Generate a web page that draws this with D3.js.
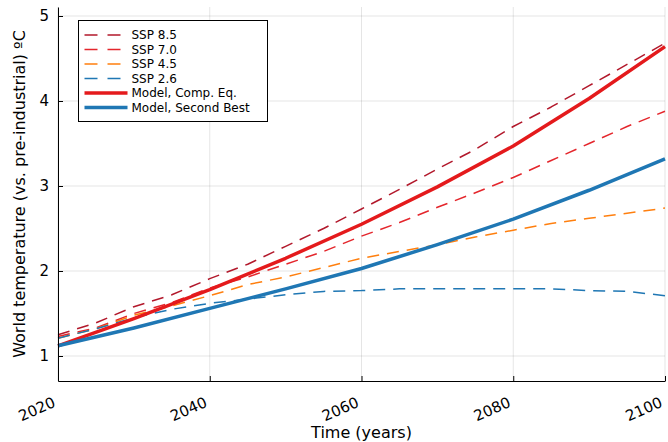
<!DOCTYPE html>
<html>
<head>
<meta charset="utf-8">
<script src="https://cdn.jsdelivr.net/npm/d3@7"></script>
<style>
  body { margin: 0; background: #fff; }
  text { font-family: "DejaVu Sans", sans-serif; }
</style>
</head>
<body>
<div id="chart"></div>
<script>
// scenario years (5-year steps) and values
const years = [2020, 2025, 2030, 2035, 2040, 2045, 2050, 2055, 2060, 2065, 2070, 2075, 2080, 2085, 2090, 2095, 2100];

const ssp85 = [1.25, 1.39, 1.58, 1.72, 1.91, 2.08, 2.29, 2.50, 2.73, 2.96, 3.20, 3.43, 3.70, 3.93, 4.18, 4.43, 4.68];
const ssp70 = [1.23, 1.33, 1.50, 1.63, 1.80, 1.93, 2.08, 2.23, 2.41, 2.57, 2.75, 2.92, 3.10, 3.30, 3.50, 3.70, 3.88];
const ssp45 = [1.21, 1.32, 1.48, 1.59, 1.71, 1.84, 1.93, 2.04, 2.15, 2.23, 2.31, 2.40, 2.48, 2.56, 2.62, 2.68, 2.74];
const ssp26 = [1.21, 1.32, 1.45, 1.55, 1.62, 1.67, 1.72, 1.76, 1.77, 1.79, 1.79, 1.79, 1.79, 1.79, 1.77, 1.76, 1.71];

// model runs, 10-year steps
const modelYears = [2020, 2030, 2040, 2050, 2060, 2070, 2080, 2090, 2100];
const compEq = [1.12, 1.44, 1.78, 2.15, 2.55, 2.99, 3.47, 4.03, 4.64];
const secondBest = [1.12, 1.33, 1.56, 1.79, 2.03, 2.31, 2.61, 2.95, 3.32];

const xTicks = [2020, 2040, 2060, 2080, 2100];
const yTicks = [1, 2, 3, 4, 5];

const series = [
  { name: "SSP 8.5", x: years, y: ssp85, color: "#b2182b", width: 1.5, dash: "12,8" },
  { name: "SSP 7.0", x: years, y: ssp70, color: "#e4262c", width: 1.5, dash: "12,8" },
  { name: "SSP 4.5", x: years, y: ssp45, color: "#ff7f0e", width: 1.5, dash: "12,8" },
  { name: "SSP 2.6", x: years, y: ssp26, color: "#1f77b4", width: 1.5, dash: "12,8" },
  { name: "Model, Comp. Eq.", x: modelYears, y: compEq, color: "#e41a1c", width: 3.5, dash: null },
  { name: "Model, Second Best", x: modelYears, y: secondBest, color: "#1f77b4", width: 3.5, dash: null }
];

const W = 668, H = 442;
const margin = { top: 7, right: 3, bottom: 61, left: 58 };
const width = W - margin.left - margin.right,
      height = H - margin.top - margin.bottom;

const svg = d3.select("#chart")
  .append("svg")
  .attr("width", W)
  .attr("height", H);

const g = svg.append("g")
  .attr("transform", `translate(${margin.left}, ${margin.top})`);

const x = d3.scaleLinear().domain([2020, 2100]).range([0, width]);
const y = d3.scaleLinear().domain([0.706, 5.106]).range([height, 0]);

// grid
g.selectAll(".gx").data(xTicks).enter().append("line")
  .attr("x1", d => x(d)).attr("x2", d => x(d))
  .attr("y1", 0).attr("y2", height)
  .attr("stroke", "#000").attr("stroke-opacity", 0.1);

g.selectAll(".gy").data(yTicks).enter().append("line")
  .attr("x1", 0).attr("x2", width)
  .attr("y1", d => y(d)).attr("y2", d => y(d))
  .attr("stroke", "#000").attr("stroke-opacity", 0.1);

// lines
const line = d3.line()
  .x(d => x(d[0]))
  .y(d => y(d[1]));

series.forEach(s => {
  g.append("path")
    .datum(s.x.map((v, i) => [v, s.y[i]]))
    .attr("fill", "none")
    .attr("stroke", s.color)
    .attr("stroke-width", s.width)
    .attr("stroke-dasharray", s.dash)
    .attr("stroke-linejoin", "round")
    .attr("d", line);
});

// axes (ticks point inward)
const xAxis = g.append("g")
  .attr("transform", `translate(0, ${height})`)
  .call(d3.axisBottom(x).tickValues(xTicks).tickSize(-5).tickSizeOuter(0).tickFormat(d3.format("d")));
xAxis.selectAll("text")
  .attr("font-size", 15)
  .attr("fill", "#000")
  .attr("text-anchor", "end")
  .attr("transform", "translate(-2, 25) rotate(-24)")
  .attr("dy", 0)
  .attr("y", 0);

const yAxis = g.append("g")
  .call(d3.axisLeft(y).tickValues(yTicks).tickSize(-5).tickSizeOuter(0).tickFormat(d3.format("d")));
yAxis.selectAll("text")
  .attr("font-size", 15)
  .attr("fill", "#000")
  .attr("x", -9);

svg.selectAll(".domain").attr("stroke", "#000");
svg.selectAll(".tick line").attr("stroke", "#000");

// axis titles
svg.append("text")
  .attr("x", margin.left + width / 2)
  .attr("y", 438)
  .attr("text-anchor", "middle")
  .attr("font-size", 16)
  .text("Time (years)");

svg.append("text")
  .attr("transform", `translate(25, ${margin.top + height / 2}) rotate(-90)`)
  .attr("text-anchor", "middle")
  .attr("font-size", 16)
  .text("World temperature (vs. pre-industrial) ºC");

// legend
const legend = svg.append("g").attr("transform", "translate(78.5, 20.5)");
legend.append("rect")
  .attr("width", 189)
  .attr("height", 101)
  .attr("fill", "#fff")
  .attr("stroke", "#000")
  .attr("stroke-width", 1);

series.forEach((s, i) => {
  const ly = 14.5 + i * 14.5;
  legend.append("line")
    .attr("x1", 6).attr("x2", 49)
    .attr("y1", ly).attr("y2", ly)
    .attr("stroke", s.color)
    .attr("stroke-width", s.width)
    .attr("stroke-dasharray", s.dash ? "13,10" : null);
  legend.append("text")
    .attr("x", 53)
    .attr("y", ly)
    .attr("dy", "0.35em")
    .attr("font-size", 12)
    .text(s.name);
});
</script>
</body>
</html>
